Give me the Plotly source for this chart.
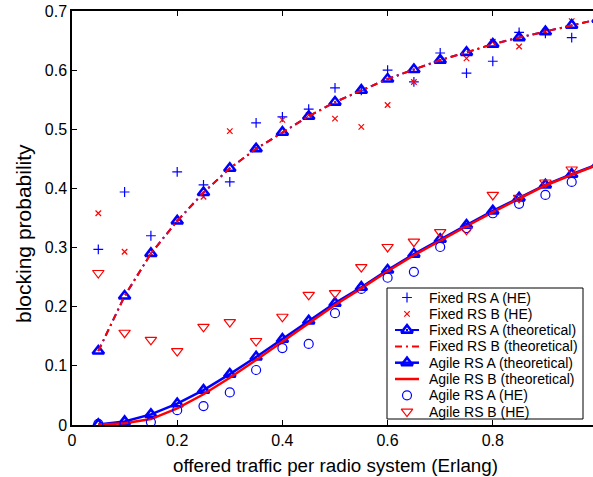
import plotly.graph_objects as go

# ---------------- data ----------------
x_he = [0.05, 0.10, 0.15, 0.20, 0.25, 0.30, 0.35, 0.40, 0.45, 0.50,
        0.55, 0.60, 0.65, 0.70, 0.75, 0.80, 0.85, 0.90, 0.95]
x_theo = x_he + [1.00]

fixed_a_he = [0.297, 0.394, 0.320, 0.428, 0.406, 0.411, 0.511, 0.521, 0.534, 0.570,
              0.566, 0.600, 0.580, 0.629, 0.595, 0.615, 0.664, 0.662, 0.655]
fixed_b_he = [0.358, 0.293, 0.290, 0.345, 0.386, 0.497, 0.468, 0.516, 0.524, 0.518,
              0.504, 0.541, 0.580, 0.617, 0.620, 0.648, 0.640, 0.665, 0.683]
fixed_a_theo = [0.125, 0.218, 0.290, 0.345, 0.393, 0.434, 0.467, 0.495, 0.522, 0.546,
                0.566, 0.585, 0.601, 0.617, 0.630, 0.644, 0.655, 0.665, 0.676, 0.686]
fixed_b_theo = [0.125, 0.218, 0.290, 0.345, 0.393, 0.434, 0.467, 0.495, 0.522, 0.546,
                0.566, 0.585, 0.601, 0.617, 0.630, 0.644, 0.655, 0.665, 0.676, 0.686]
agile_a_theo = [0.001, 0.006, 0.018, 0.036, 0.059, 0.086, 0.115, 0.145, 0.176, 0.206,
                0.233, 0.262, 0.289, 0.314, 0.338, 0.362, 0.384, 0.406, 0.424, 0.441]
agile_b_theo = [0.0005, 0.003, 0.010, 0.028, 0.052, 0.080, 0.110, 0.141, 0.173, 0.203,
                0.231, 0.260, 0.287, 0.312, 0.336, 0.360, 0.383, 0.405, 0.423, 0.440]
agile_a_he = [0.002, 0.003, 0.005, 0.025, 0.032, 0.055, 0.093, 0.130, 0.137, 0.189,
              0.230, 0.249, 0.259, 0.301, 0.333, 0.358, 0.374, 0.389, 0.411]
agile_b_he = [0.257, 0.156, 0.144, 0.125, 0.166, 0.174, 0.142, 0.183, 0.220, 0.223,
              0.267, 0.301, 0.310, 0.326, 0.330, 0.389, 0.384, 0.410, 0.432]

x_ticks = [0, 0.2, 0.4, 0.6, 0.8]
x_ticklabels = ["0", "0.2", "0.4", "0.6", "0.8"]
y_ticks = [0, 0.1, 0.2, 0.3, 0.4, 0.5, 0.6, 0.7]
y_ticklabels = ["0", "0.1", "0.2", "0.3", "0.4", "0.5", "0.6", "0.7"]

legend_labels = ["Fixed RS A (HE)", "Fixed RS B (HE)", "Fixed RS A (theoretical)",
                 "Fixed RS B (theoretical)", "Agile RS A (theoretical)",
                 "Agile RS B (theoretical)", "Agile RS A (HE)", "Agile RS B (HE)"]

x_title = "offered traffic per radio system (Erlang)"
y_title = "blocking probability"

# ---------------- styles ----------------
BLUE = "#0000FF"
RED = "#FF0000"
FONT = "Liberation Sans, Arial, Helvetica, sans-serif"
DASHDOT = "7px,4px,2px,4px"

styles = [
    dict(mode="markers", marker=dict(symbol="cross-thin-open", size=7, color=BLUE,
                                      line=dict(color=BLUE, width=1.2))),
    dict(mode="markers", marker=dict(symbol="x-thin-open", size=5.5, color=RED,
                                      line=dict(color=RED, width=1.2))),
    dict(mode="lines+markers", line=dict(color=BLUE, width=2, dash=DASHDOT),
         marker=dict(symbol="triangle-up-open", size=10, color=BLUE,
                     line=dict(color=BLUE, width=2.6))),
    dict(mode="lines", line=dict(color=RED, width=2, dash=DASHDOT)),
    dict(mode="lines+markers", line=dict(color=BLUE, width=2.5),
         marker=dict(symbol="triangle-up-open", size=10, color=BLUE,
                     line=dict(color=BLUE, width=2.6))),
    dict(mode="lines", line=dict(color=RED, width=2.5)),
    dict(mode="markers", marker=dict(symbol="circle-open", size=9, color=BLUE,
                                      line=dict(color=BLUE, width=1.2))),
    dict(mode="markers", marker=dict(symbol="triangle-down-open", size=10, color=RED,
                                      line=dict(color=RED, width=1.2))),
]

series = [
    (x_he, fixed_a_he), (x_he, fixed_b_he), (x_theo, fixed_a_theo), (x_theo, fixed_b_theo),
    (x_theo, agile_a_theo), (x_theo, agile_b_theo), (x_he, agile_a_he), (x_he, agile_b_he),
]

fig = go.Figure()
for (xs, ys), st, name in zip(series, styles, legend_labels):
    fig.add_trace(go.Scatter(x=xs, y=ys, name=name, showlegend=False, **st))

# ---------------- manual legend (pixel-space overlay axes) ----------------
W, H = 593, 477
ML, MT, MB = 72, 11, 52
PW, PH = W - ML, H - MT - MB
box = dict(x0=387, x1=583, y0=288, y1=419)
row_y0, row_dy = 297.5, 16.3
sample_x0, sample_x1, text_x = 395, 419, 427

fig.add_trace(go.Scatter(
    x=[box["x0"], box["x1"], box["x1"], box["x0"], box["x0"]],
    y=[box["y0"], box["y0"], box["y1"], box["y1"], box["y0"]],
    mode="lines", fill="toself", fillcolor="white",
    line=dict(color="black", width=1), xaxis="x2", yaxis="y2",
    showlegend=False, hoverinfo="skip"))

annotations = []
for i, (st, name) in enumerate(zip(styles, legend_labels)):
    yc = row_y0 + i * row_dy
    if "lines" in st["mode"]:
        fig.add_trace(go.Scatter(x=[sample_x0, sample_x1], y=[yc, yc], mode="lines",
                                 line=st["line"], xaxis="x2", yaxis="y2",
                                 showlegend=False, hoverinfo="skip"))
    if "markers" in st["mode"]:
        fig.add_trace(go.Scatter(x=[(sample_x0 + sample_x1) / 2], y=[yc], mode="markers",
                                 marker=st["marker"], xaxis="x2", yaxis="y2",
                                 showlegend=False, hoverinfo="skip"))
    annotations.append(dict(x=text_x, y=yc, xref="x2", yref="y2", text=name,
                            showarrow=False, xanchor="left", yanchor="middle",
                            font=dict(family=FONT, size=14, color="black")))

# axis titles (paper coordinates computed from pixel centres)
annotations.append(dict(x=(335 - ML) / PW, y=(H - MB - 465) / PH, xref="paper", yref="paper",
                        text=x_title, showarrow=False, xanchor="center", yanchor="middle",
                        font=dict(family=FONT, size=18.8, color="black")))
annotations.append(dict(x=(24 - ML) / PW, y=(H - MB - 234) / PH, xref="paper", yref="paper",
                        text=y_title, showarrow=False, xanchor="center", yanchor="middle",
                        textangle=-90, font=dict(family=FONT, size=21, color="black")))

fig.update_layout(
    width=W, height=H,
    margin=dict(l=ML, r=0, t=MT, b=MB, pad=0),
    paper_bgcolor="white", plot_bgcolor="white",
    font=dict(family=FONT, size=16, color="black"),
    showlegend=False,
    xaxis=dict(range=[0, 0.9905], tickvals=x_ticks, ticktext=x_ticklabels,
               ticks="inside", ticklen=5, tickwidth=1, tickcolor="black",
               showline=True, linecolor="black", linewidth=1.5, mirror="ticks",
               showgrid=False, zeroline=False, tickfont=dict(size=16)),
    yaxis=dict(range=[0, 0.7], tickvals=y_ticks, ticktext=y_ticklabels,
               ticks="inside", ticklen=5, tickwidth=1, tickcolor="black",
               showline=True, linecolor="black", linewidth=1.5,
               showgrid=False, zeroline=False, tickfont=dict(size=16)),
    xaxis2=dict(range=[ML, W], overlaying="x", visible=False, fixedrange=True),
    yaxis2=dict(range=[H - MB, MT], overlaying="y", visible=False, fixedrange=True),
    annotations=annotations,
)

fig.write_html("out.html")
